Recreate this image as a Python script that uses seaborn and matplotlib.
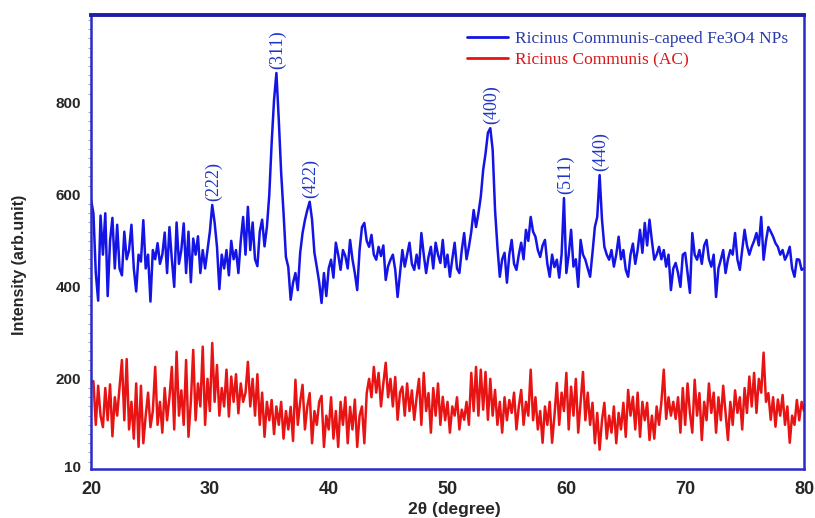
import numpy as np
import pandas as pd
import matplotlib
matplotlib.use('Agg')
import matplotlib.pyplot as plt
import seaborn as sns

# scan grid (2theta, degrees): start, step, number of points
scan_start = 20.0
scan_step = 0.2
n_points = 301

# Ricinus Communis-capped Fe3O4 NPs (blue)
fe3o4 = [
    590, 560, 430, 370, 555, 470, 560, 380, 500, 550, 440, 535, 440, 425, 520, 460, 480, 535, 440, 390, 470, 455, 545, 440, 470,
    368, 480, 460, 495, 450, 470, 518, 430, 530, 460, 400, 540, 450, 480, 538, 430, 520, 410, 505, 470, 510, 430, 480, 440, 480,
    520, 578, 540, 487, 395, 470, 440, 480, 425, 500, 460, 480, 430, 500, 552, 470, 574, 480, 540, 460, 445, 520, 546, 488, 530,
    600, 713, 806, 865, 763, 648, 561, 465, 443, 372, 409, 430, 393, 474, 517, 545, 567, 585, 546, 474, 443, 410, 365, 430, 380,
    440, 459, 420, 496, 470, 437, 480, 467, 440, 502, 460, 430, 393, 480, 530, 539, 500, 487, 513, 470, 459, 487, 467, 490, 415,
    445, 459, 470, 437, 378, 430, 480, 444, 470, 496, 450, 437, 470, 440, 517, 470, 430, 465, 487, 440, 496, 470, 452, 502, 443,
    470, 422, 460, 496, 440, 430, 480, 517, 460, 487, 520, 567, 530, 560, 596, 654, 690, 735, 745, 698, 567, 487, 422, 460, 474,
    409, 470, 502, 450, 437, 470, 496, 460, 524, 500, 552, 520, 509, 480, 465, 490, 502, 450, 422, 470, 443, 459, 420, 470, 593,
    430, 470, 524, 444, 460, 400, 502, 470, 459, 440, 422, 474, 530, 552, 643, 546, 487, 470, 459, 480, 444, 470, 509, 460, 480,
    437, 422, 470, 494, 450, 480, 524, 474, 539, 490, 546, 500, 459, 470, 487, 460, 480, 444, 470, 393, 440, 452, 430, 400, 470,
    474, 430, 387, 517, 470, 459, 480, 450, 490, 502, 460, 444, 470, 378, 440, 459, 480, 430, 460, 480, 470, 517, 459, 437, 480,
    524, 490, 470, 487, 500, 517, 490, 552, 459, 500, 530, 520, 509, 495, 487, 470, 480, 459, 470, 487, 440, 422, 460, 459, 437, 440,
]

# Ricinus Communis (AC) (red)
ricinus = [
    190, 195, 100, 185, 120, 95, 180, 110, 188, 75, 160, 120, 182, 241, 110, 243, 90, 150, 70, 190, 52, 185, 60, 120, 170,
    95, 130, 226, 100, 150, 83, 180, 110, 160, 226, 90, 259, 120, 175, 100, 241, 74, 150, 263, 110, 190, 140, 270, 100, 200,
    130, 278, 150, 230, 120, 180, 140, 220, 118, 205, 150, 210, 125, 190, 150, 170, 237, 140, 200, 120, 210, 100, 170, 74, 150,
    110, 154, 80, 140, 100, 150, 70, 130, 90, 139, 65, 198, 100, 150, 187, 90, 140, 169, 60, 130, 100, 150, 163, 52, 120,
    90, 160, 70, 130, 52, 150, 100, 160, 60, 139, 90, 155, 52, 120, 140, 60, 169, 200, 160, 226, 170, 213, 140, 190, 235,
    160, 200, 140, 204, 111, 170, 183, 120, 190, 130, 175, 111, 160, 200, 100, 213, 130, 169, 83, 180, 120, 190, 100, 161, 110,
    150, 83, 140, 120, 160, 90, 133, 111, 150, 100, 213, 130, 226, 120, 220, 133, 215, 111, 200, 120, 176, 100, 150, 83, 160,
    110, 154, 126, 170, 90, 140, 176, 100, 150, 120, 220, 110, 160, 90, 130, 61, 140, 100, 150, 61, 120, 191, 100, 170, 130,
    213, 90, 183, 120, 200, 83, 150, 215, 110, 170, 100, 148, 60, 126, 46, 110, 148, 70, 120, 83, 140, 60, 126, 90, 148,
    74, 176, 120, 161, 90, 170, 74, 150, 110, 148, 67, 120, 70, 140, 100, 150, 220, 113, 160, 120, 150, 113, 160, 83, 180,
    100, 190, 126, 83, 198, 120, 169, 67, 150, 110, 190, 126, 170, 83, 160, 110, 185, 126, 67, 150, 100, 175, 126, 160, 90,
    180, 126, 205, 140, 213, 126, 200, 170, 257, 150, 169, 111, 160, 96, 155, 120, 165, 100, 140, 61, 120, 100, 154, 110, 150, 130,
]

# peak labels (hkl) and their 2theta positions / heights
peak_labels = ['(222)', '(311)', '(422)', '(400)', '(511)', '(440)']
peak_pos = [30.2, 35.6, 38.4, 53.6, 59.8, 62.8]
peak_height = [578, 865, 585, 745, 593, 643]

two_theta = scan_start + scan_step * np.arange(n_points)
df = pd.DataFrame({'two_theta': two_theta, 'fe3o4': fe3o4, 'ricinus': ricinus})

sns.set_style('white')
plt.rcParams['font.family'] = ['Liberation Sans', 'DejaVu Sans']

fig = plt.figure(figsize=(8.15, 5.18), dpi=100)
ax = fig.add_axes([0.1117, 0.0946, 0.8748, 0.8764])

sns.lineplot(data=df, x='two_theta', y='fe3o4', ax=ax, color='#1414e6', linewidth=1.8,
             estimator=None, label='Ricinus Communis-capeed Fe3O4 NPs')
sns.lineplot(data=df, x='two_theta', y='ricinus', ax=ax, color='#e81414', linewidth=1.8,
             estimator=None, label='Ricinus Communis (AC)')

ax.set_xlim(20, 80)
ax.set_ylim(4, 991)

# frame
spine_col = '#2a2ac8'
for side in ['left', 'bottom', 'right']:
    ax.spines[side].set_color(spine_col)
    ax.spines[side].set_linewidth(1.8)
ax.spines['top'].set_color('#1e1ea8')
ax.spines['top'].set_linewidth(2.8)

ax.set_xticks([20, 30, 40, 50, 60, 70, 80])
ax.set_yticks([10, 200, 400, 600, 800])
ax.set_yticks(np.arange(20, 991, 20), minor=True)
ax.tick_params(axis='x', direction='out', length=3, color=spine_col, labelsize=13, pad=6)
ax.tick_params(axis='y', which='major', direction='out', length=4, color='#8080a0', labelsize=11, pad=3)
ax.tick_params(axis='y', which='minor', direction='out', length=2.5, color='#9090a8', left=True)
for lab in ax.get_xticklabels() + ax.get_yticklabels():
    lab.set_fontweight('bold')

ax.set_xlabel('2θ (degree)', fontsize=12.5, fontweight='bold', labelpad=0)
ax.xaxis.set_label_coords(0.51, -0.073)
ax.set_ylabel('Intensity (arb.unit)', fontsize=11.5, fontweight='bold')
ax.yaxis.set_label_coords(-0.09, 0.45)

# peak annotations
for lab, px, py in zip(peak_labels, peak_pos, peak_height):
    ax.annotate(lab, xy=(px, py), xytext=(1, 3), textcoords='offset points',
                rotation=90, ha='center', va='bottom', color='#1f35c8',
                fontsize=13, family='Liberation Serif')

leg = ax.legend(loc='upper right', frameon=False, prop={'family': 'Liberation Serif', 'size': 12.5},
                labelcolor=['#2a3aa8', '#d81818'], handlelength=2.4, handletextpad=0.4,
                labelspacing=0.3, borderaxespad=0.5, bbox_to_anchor=(1.0, 1.0))
for line in leg.get_lines():
    line.set_linewidth(2)

fig.savefig('out.png', dpi=100)
